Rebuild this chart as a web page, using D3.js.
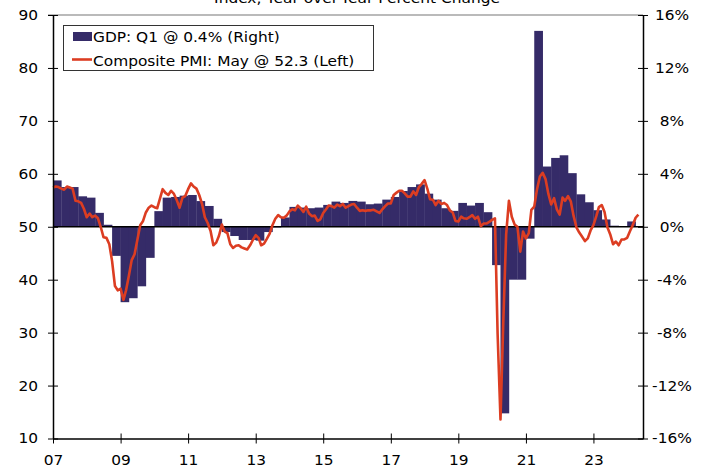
<!DOCTYPE html>
<html>
<head>
<meta charset="utf-8">
<script src="https://cdn.jsdelivr.net/npm/d3@7"></script>
<style>
  body { margin: 0; background: #fff; }
  text { font-family: "DejaVu Sans", Verdana, sans-serif; font-size: 14px; fill: #000; }
</style>
</head>
<body>
<div id="chart"></div>
<script>
// Eurozone GDP (quarterly, yoy %) starting 2007 Q1
const gdpStart = new Date(2007, 0, 1);
const gdpValues = [
  3.5, 3.0, 3.0, 2.3,
  2.2, 1.05, 0.15, -2.2,
  -5.7, -5.4, -4.5, -2.35,
  1.18, 2.2, 2.25, 2.35,
  2.4, 1.94, 1.57, 0.6,
  -0.4, -0.7, -1.0, -1.0,
  -1.05, -0.4, -0.05, 0.7,
  1.5, 1.45, 1.4, 1.45,
  1.65, 1.9, 1.8, 1.95,
  1.9, 1.7, 1.75, 2.05,
  2.25, 2.7, 3.0, 3.2,
  2.5, 2.05, 1.4, 1.2,
  1.8, 1.6, 1.8, 1.1,
  -2.9, -14.1, -4.0, -4.0,
  -0.9, 14.8, 4.55, 5.2,
  5.4, 4.05, 2.45, 1.85,
  1.25, 0.55, 0.08, 0.05,
  0.4
];

// Composite PMI (monthly) starting Jan 2007
const pmiStart = new Date(2007, 0, 1);
const pmiValues = [
  57.4, 57.6, 57.5, 57.2, 57.0, 57.6, 57.4, 57.2, 54.9, 54.8, 54.5, 53.4,
  51.8, 52.5, 51.8, 52.1, 51.6, 49.9, 48.0, 47.9, 46.7, 43.5, 38.8, 38.0,
  38.3, 36.2, 38.0, 40.8, 43.7, 44.8, 47.5, 50.3, 51.1, 52.7, 53.6, 54.0,
  53.7, 53.5, 55.2, 57.1, 56.4, 56.0, 56.8, 56.2, 55.0, 53.6, 55.5, 55.8,
  57.1, 58.2, 57.6, 57.2, 56.0, 54.3, 51.8, 50.7, 49.2, 46.5, 47.0, 48.3,
  50.4, 49.1, 48.8, 46.7, 46.0, 46.4, 46.5, 46.1, 45.9, 45.7, 46.5, 47.5,
  48.4, 47.9, 46.5, 46.8, 47.7, 48.7, 50.3, 51.5, 52.2, 51.8, 51.7, 52.1,
  52.9, 53.3, 53.1, 54.0, 53.5, 52.8, 53.8, 52.5, 52.0, 52.1, 51.1, 51.4,
  52.6, 53.3, 54.0, 53.9, 53.6, 54.2, 53.9, 54.3, 53.6, 53.9, 54.2, 54.3,
  53.6, 53.0, 53.1, 53.0, 53.1, 53.1, 53.2, 52.9, 52.6, 53.3, 53.9, 54.4,
  54.4, 56.0, 56.4, 56.8, 56.8, 56.3, 55.7, 55.7, 56.7, 56.0, 57.5, 58.1,
  58.8, 57.1, 55.2, 55.1, 54.1, 54.9, 54.3, 54.5, 54.1, 53.1, 52.7, 51.1,
  51.0, 51.9, 51.6, 51.5, 51.8, 52.2, 51.5, 51.9, 50.1, 50.6, 50.6, 50.9,
  51.3, 51.6, 29.7, 13.6, 31.9, 48.5, 54.9, 51.9, 50.4, 50.0, 45.3, 49.1,
  47.8, 48.8, 53.2, 53.8, 57.1, 59.5, 60.2, 59.0, 56.2, 54.2, 55.4, 53.3,
  52.3, 55.5, 54.9, 55.8, 54.8, 52.0, 49.9, 48.9, 48.1, 47.3, 47.8, 49.3,
  50.3, 52.0, 53.7, 54.1, 52.8, 49.9, 48.6, 46.7, 47.2, 46.5, 47.6, 47.6,
  47.9, 49.2, 50.3, 51.7, 52.3
];

const xTickYears = [2007, 2009, 2011, 2013, 2015, 2017, 2019, 2021, 2023];
const leftTicks = [10, 20, 30, 40, 50, 60, 70, 80, 90];
const rightTicks = [-16, -12, -8, -4, 0, 4, 8, 12, 16];
const legendLabels = ["GDP: Q1 @ 0.4% (Right)", "Composite PMI: May @ 52.3 (Left)"];
const titleText = "Index, Year-over-Year Percent Change";

const svgWidth = 711;
const svgHeight = 468;
const margin = { top: 15, right: 68, bottom: 29.5, left: 53 };
const width = svgWidth - margin.left - margin.right;
const height = svgHeight - margin.top - margin.bottom;
const sx = 1.1; // horizontal text stretch

const barColor = "#352b68";
const lineColor = "#dc3d22";

const svg = d3.select("#chart")
  .append("svg")
  .attr("width", svgWidth)
  .attr("height", svgHeight);

const chartGroup = svg.append("g")
  .attr("transform", `translate(${margin.left}, ${margin.top})`);

// scales
const xScale = d3.scaleTime()
  .domain([new Date(2007, 0, 1), new Date(2024, 5, 20)])
  .range([0, width]);
const yLeft = d3.scaleLinear().domain([10, 90]).range([height, 0]);
const yRight = d3.scaleLinear().domain([-16, 16]).range([height, 0]);

// gdp bars
const gdpData = gdpValues.map((v, i) => ({
  start: d3.timeMonth.offset(gdpStart, i * 3),
  end: d3.timeMonth.offset(gdpStart, i * 3 + 3),
  value: v
}));

chartGroup.selectAll("rect.bar")
  .data(gdpData)
  .enter()
  .append("rect")
  .attr("class", "bar")
  .attr("x", d => xScale(d.start))
  .attr("width", d => xScale(d.end) - xScale(d.start) + 0.3)
  .attr("y", d => yRight(Math.max(0, d.value)))
  .attr("height", d => Math.abs(yRight(d.value) - yRight(0)))
  .attr("fill", barColor);

// zero line
chartGroup.append("line")
  .attr("x1", 0).attr("x2", width)
  .attr("y1", yRight(0)).attr("y2", yRight(0))
  .attr("stroke", "#000")
  .attr("stroke-width", 1.3);

// pmi line
const pmiData = pmiValues.map((v, i) => ({ date: d3.timeMonth.offset(pmiStart, i), value: v }));
const line = d3.line()
  .x(d => xScale(d.date))
  .y(d => yLeft(d.value));

chartGroup.append("path")
  .datum(pmiData)
  .attr("fill", "none")
  .attr("stroke", lineColor)
  .attr("stroke-width", 2.6)
  .attr("stroke-linejoin", "round")
  .attr("d", line);

// top frame line
chartGroup.append("line")
  .attr("x1", -5).attr("x2", width)
  .attr("y1", 0).attr("y2", 0)
  .attr("stroke", "#777")
  .attr("stroke-width", 1.2);

// left axis
const leftAxis = chartGroup.append("g")
  .call(d3.axisLeft(yLeft).tickValues(leftTicks).tickSizeOuter(0));
leftAxis.select(".domain").attr("stroke", "#000").attr("stroke-width", 1.5);
leftAxis.selectAll(".tick line").attr("x1", -5).attr("x2", 5).attr("stroke", "#000");
leftAxis.selectAll(".tick text")
  .attr("x", -15 / sx)
  .attr("transform", `scale(${sx},1)`)
  .style("font-size", "14px");

// right axis
const rightAxis = chartGroup.append("g")
  .attr("transform", `translate(${width}, 0)`)
  .call(d3.axisRight(yRight).tickValues(rightTicks).tickFormat(d => d + "%").tickSizeOuter(0));
rightAxis.select(".domain").attr("stroke", "#000").attr("stroke-width", 1.5);
rightAxis.selectAll(".tick line").attr("x1", -5).attr("x2", 5).attr("stroke", "#000");
rightAxis.selectAll(".tick text")
  .attr("x", 29 / sx)
  .attr("text-anchor", "middle")
  .attr("transform", `scale(${sx},1)`)
  .style("font-size", "14px");

// bottom axis
const bottomAxis = chartGroup.append("g")
  .attr("transform", `translate(0, ${height})`)
  .call(d3.axisBottom(xScale)
    .tickValues(xTickYears.map(y => new Date(y, 0, 1)))
    .tickFormat(d3.timeFormat("%y"))
    .tickSizeOuter(0));
bottomAxis.select(".domain").attr("stroke", "#000").attr("stroke-width", 1.5);
bottomAxis.selectAll(".tick line").attr("y1", -5).attr("y2", 5).attr("stroke", "#000");
bottomAxis.selectAll(".tick text")
  .attr("y", 27)
  .attr("dy", null)
  .attr("transform", `scale(${sx},1)`)
  .attr("x", 0)
  .style("font-size", "14px");

// title (cut at the top edge, as in the source)
svg.append("text")
  .attr("transform", `translate(357, 3) scale(${sx},1)`)
  .attr("text-anchor", "middle")
  .text(titleText);

// legend
const legend = svg.append("g");
legend.append("rect")
  .attr("x", 63.5).attr("y", 25.5)
  .attr("width", 310).attr("height", 45)
  .attr("fill", "#fff")
  .attr("stroke", "#333")
  .attr("stroke-width", 1);
legend.append("rect")
  .attr("x", 73).attr("y", 32)
  .attr("width", 19).attr("height", 9)
  .attr("fill", barColor);
legend.append("line")
  .attr("x1", 72).attr("x2", 92)
  .attr("y1", 59.5).attr("y2", 59.5)
  .attr("stroke", lineColor)
  .attr("stroke-width", 2.6);
legendLabels.forEach((t, i) => {
  legend.append("text")
    .attr("transform", `translate(93, ${42 + i * 23.5}) scale(${sx},1)`)
    .text(t);
});
</script>
</body>
</html>
